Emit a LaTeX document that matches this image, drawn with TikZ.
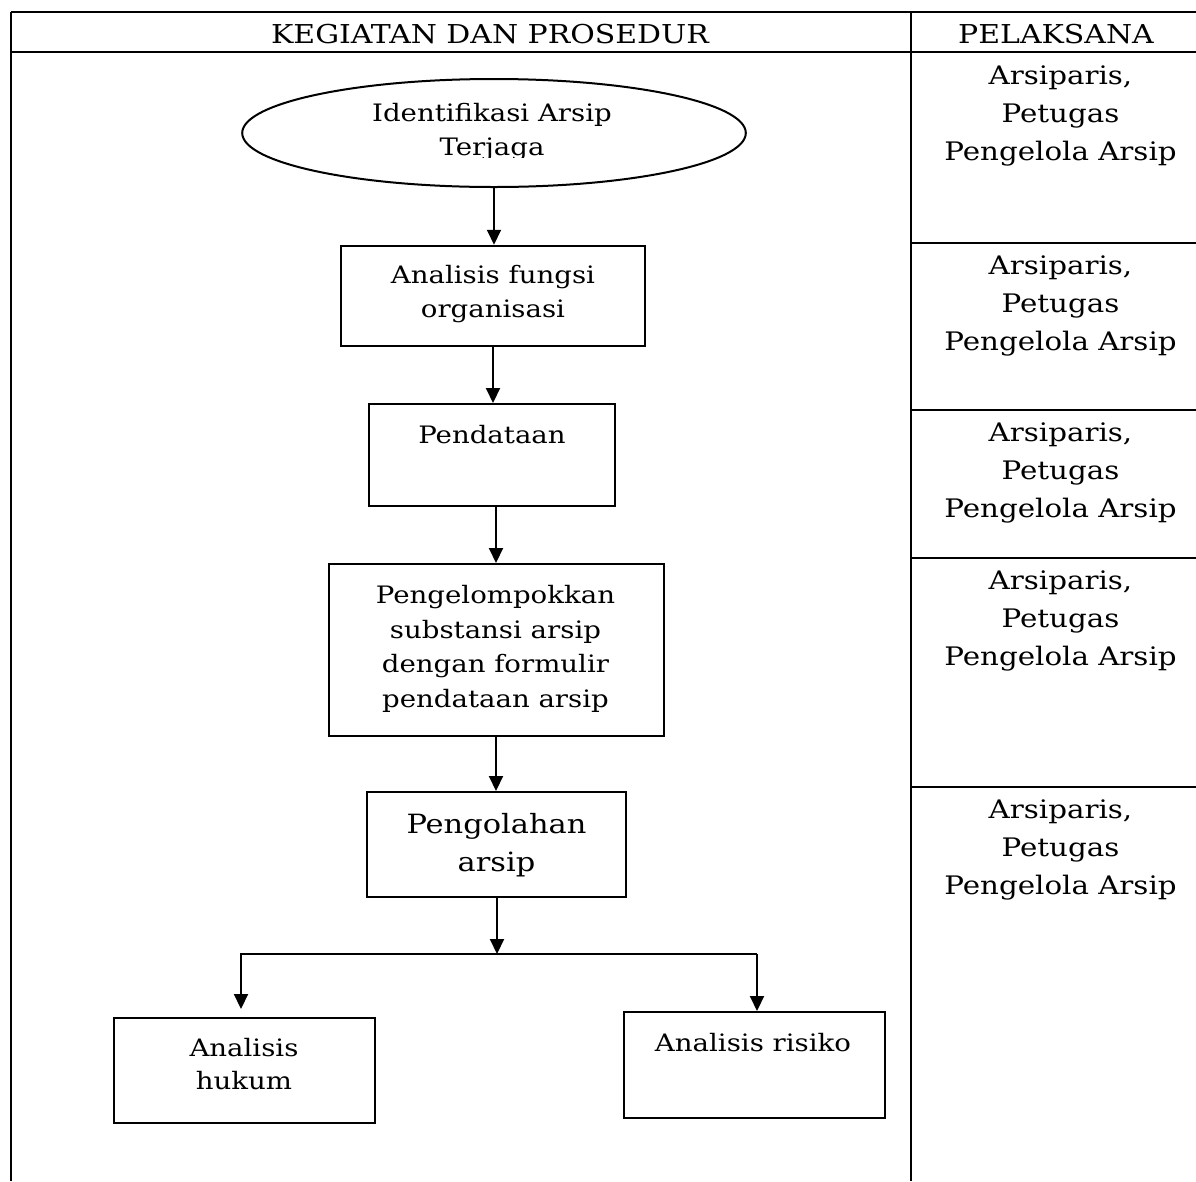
\documentclass[tikz,border=0pt]{standalone}
\usepackage{fontspec}
\setmainfont{DejaVu Serif}[FakeStretch=1.15]
\usetikzlibrary{arrows.meta,shapes.geometric}
\begin{document}
\begin{tikzpicture}[x=1pt,y=-1pt,line width=2pt,
  box/.style={draw,rectangle,inner sep=0pt},
  oval/.style={draw,ellipse,inner sep=0pt},
  txt/.style={align=center,inner sep=0pt,font=\fontsize{24}{34}\selectfont},
  bigtxt/.style={align=center,inner sep=0pt,font=\fontsize{26.5}{38}\selectfont},
  ptxt/.style={align=center,inner sep=0pt,font=\fontsize{25.5}{38}\selectfont},
  htxt/.style={inner sep=0pt,anchor=base,font=\fontsize{26}{30}\selectfont},
  arr/.style={-{Triangle[length=15pt,width=14pt]},line width=2pt}]
\useasboundingbox (0,0) rectangle (1196,1181);
\fill[white] (0,0) rectangle (1196,1181);

% table
\draw (11,11.5) -- (1196,11.5);
\draw (11,52) -- (1196,52);
\draw (11,11.5) -- (11,1181);
\draw (911,11.5) -- (911,1181);
\foreach \yy in {243,410,558,787} \draw (911,\yy) -- (1196,\yy);

\node[htxt] (h1) at (490,43) {KEGIATAN DAN PROSEDUR};
\node[htxt] (h2) at (1056,43) {PELAKSANA};

% right column
\foreach \yy/\nm in {116/p1,306.4/p2,473.4/p3,621.4/p4,850.4/p5}
  \node[ptxt] (\nm) at (1060.5,\yy) {Arsiparis,\\Petugas\\Pengelola Arsip};

% flow shapes
\node[oval,minimum width=503.6pt,minimum height=108pt] (e) at (494,133) {};
\begin{scope}
  \clip (300,95) rectangle (700,157);
  \node[txt] (et) at (492,132.3) {Identifikasi Arsip\\Terjaga};
\end{scope}

\node[box,minimum width=304.3pt,minimum height=100.3pt] (b1) at (493,295.9) {};
\node[txt] (b1t) at (493,293.8) {Analisis fungsi\\organisasi};

\node[box,minimum width=246pt,minimum height=102pt] (b2) at (492,455) {};
\node[txt,anchor=base] (b2t) at (492,443) {Pendataan};

\node[box,minimum width=335pt,minimum height=172pt] (b3) at (496,650) {};
\node[align=center,inner sep=0pt,font=\fontsize{24}{34.6}\selectfont] (b3t) at (495.5,648.8)
  {Pengelompokkan\\substansi arsip\\dengan formulir\\pendataan arsip};

\node[box,minimum width=259pt,minimum height=105pt] (b4) at (496,844.5) {};
\node[bigtxt] (b4t) at (496.5,845.1) {Pengolahan\\arsip};

\node[box,minimum width=261pt,minimum height=105pt] (bh) at (244.5,1070.5) {};
\node[align=center,inner sep=0pt,font=\fontsize{24}{33}\selectfont] (bht) at (244,1064.4) {Analisis\\hukum};

\node[box,minimum width=261pt,minimum height=106pt] (br) at (754.5,1065) {};
\node[txt,anchor=base] (brt) at (753,1051) {Analisis risiko};

% connectors
\coordinate (L) at (241,954);
\coordinate (R) at (757,954);
\coordinate (J) at (497,954);
\coordinate (Lend) at (241,1009);

\draw[arr] (e.south) -- (e.south |- b1.north);
\draw[arr] (b1.south) -- (b1.south |- b2.north);
\draw[arr] (b3.north |- b2.south) -- (b3.north);
\draw[arr] (b3.south) -- (b4.north);
\draw[arr] (b4.south -| J) -- (J);
\draw[arr] (R) -- (L) -- (Lend);
\draw[arr] (R) -- (R |- br.north);
\end{tikzpicture}
\end{document}
